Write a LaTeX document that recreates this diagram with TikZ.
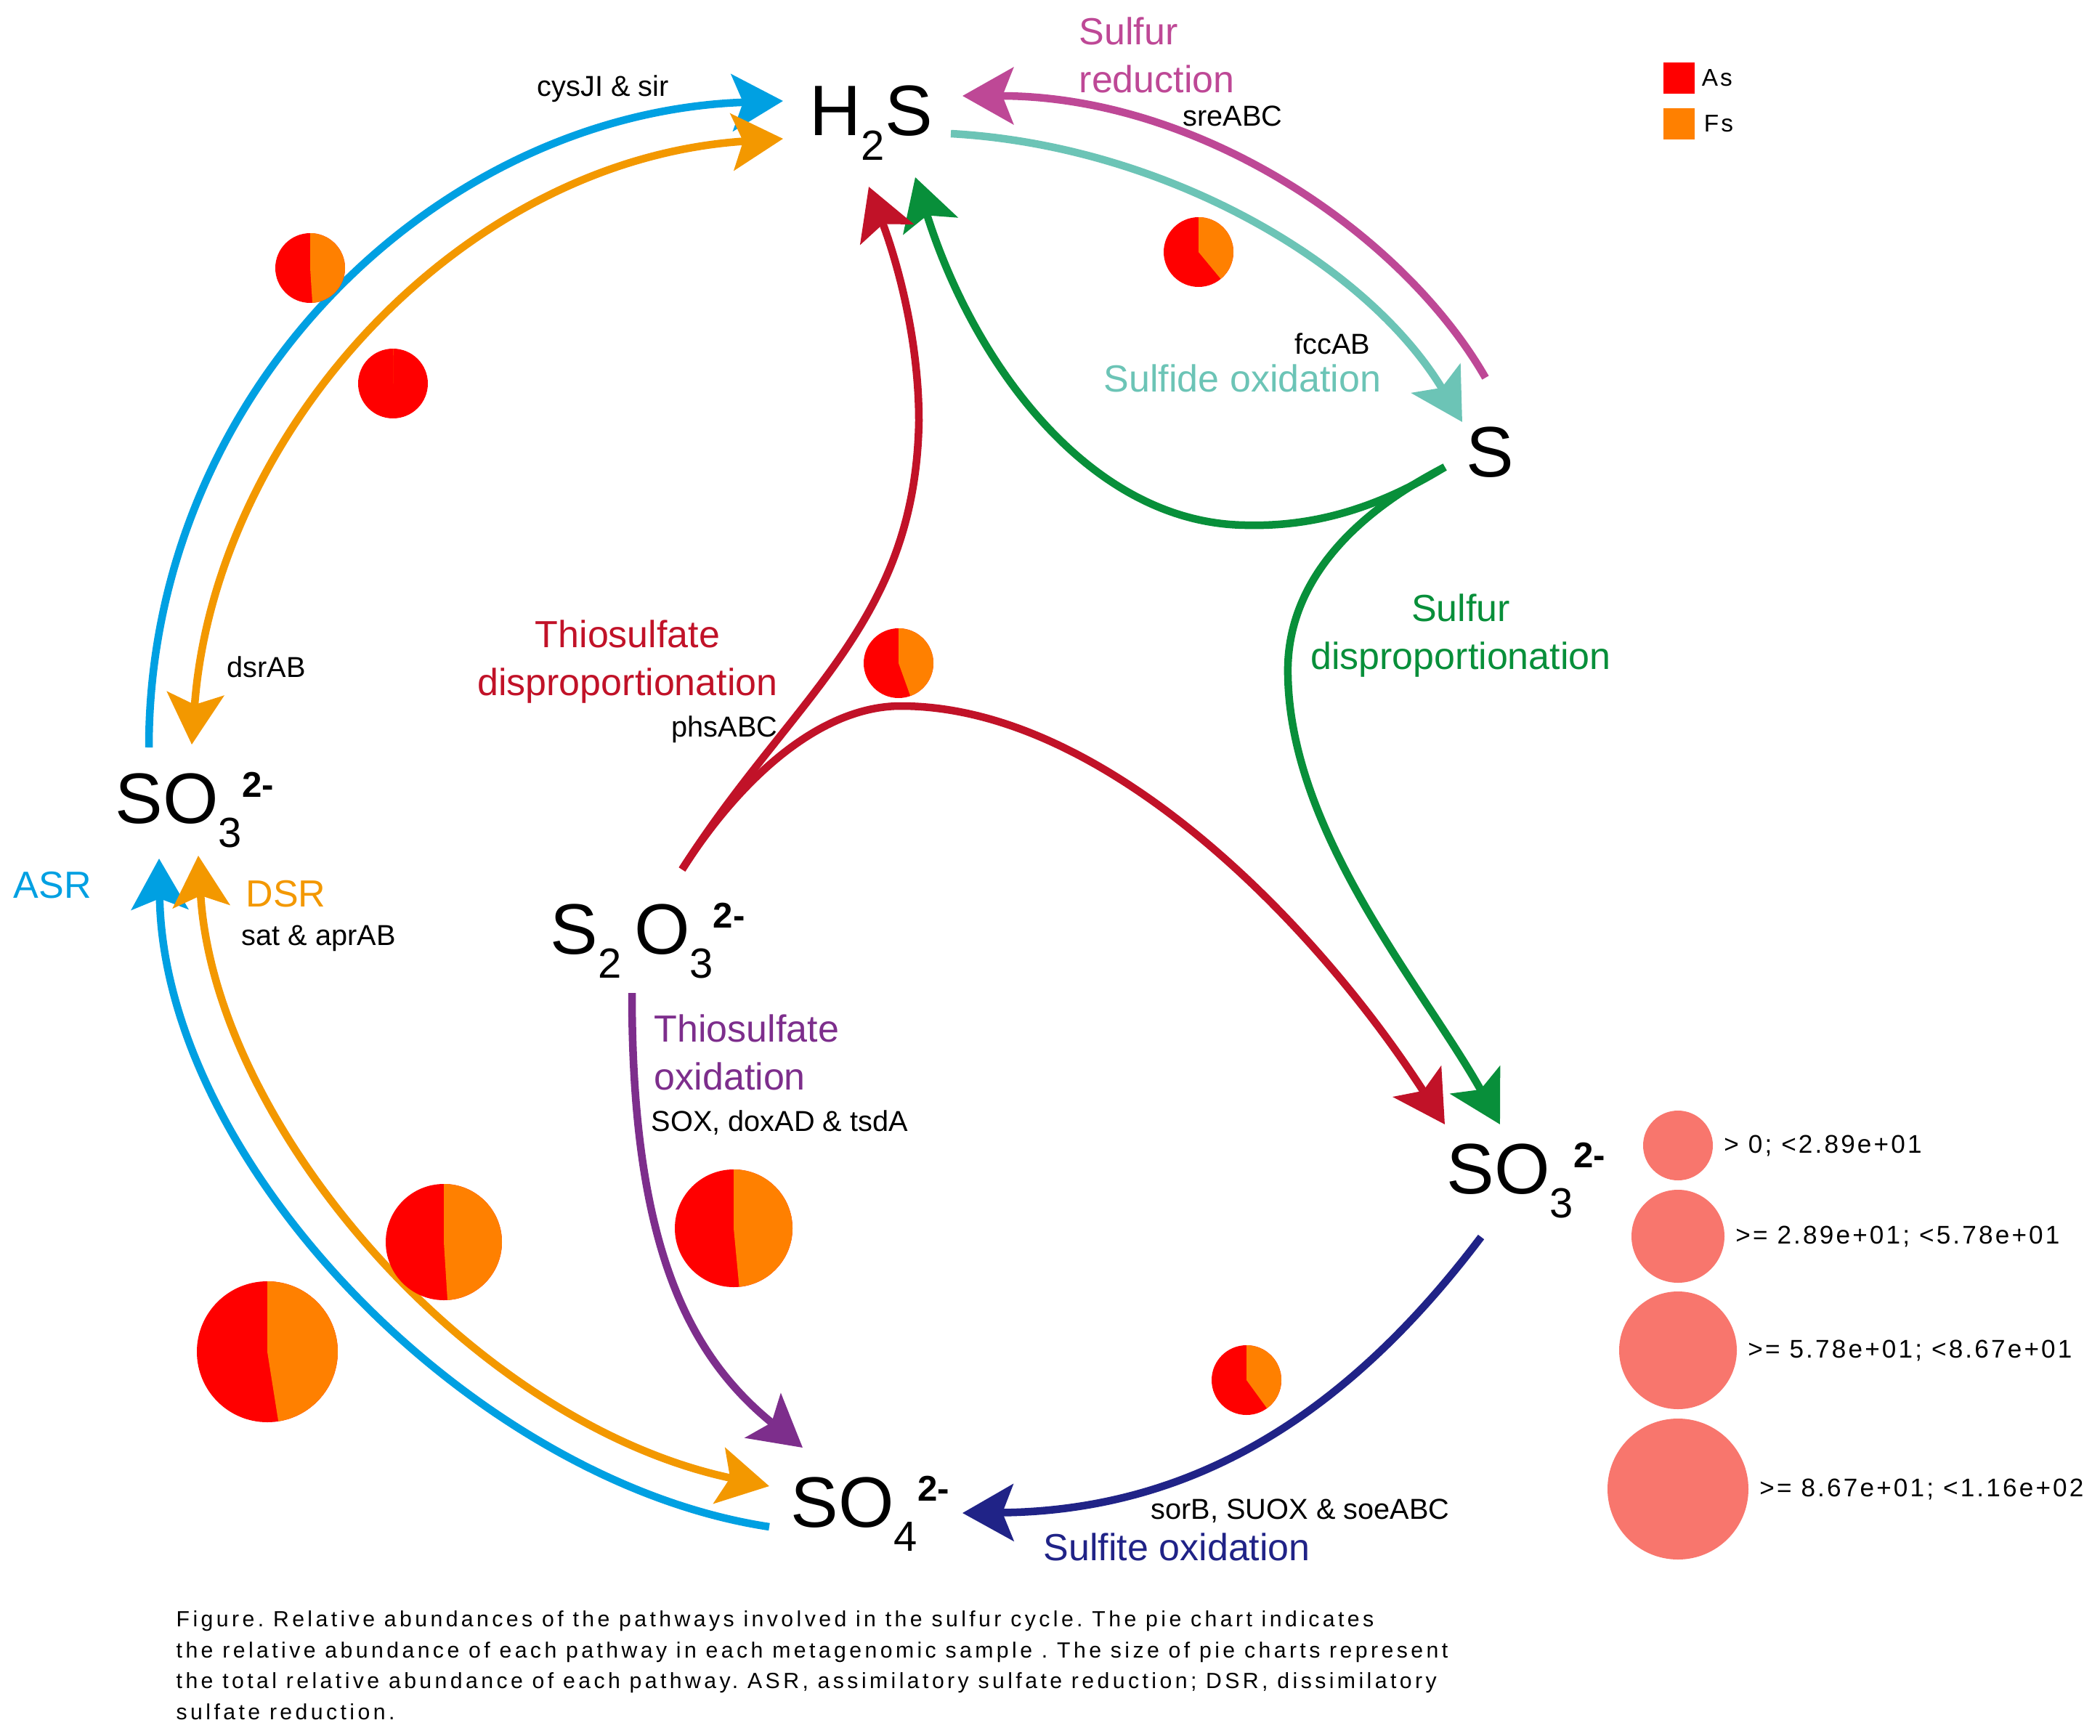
\documentclass[tikz,border=0pt]{standalone}
\usepackage{fontspec}
\setmainfont{Liberation Sans}
\newfontfamily\capfont[LetterSpace=14.6]{Liberation Sans}
\newfontfamily\keyfont[LetterSpace=9]{Liberation Sans}
\usetikzlibrary{arrows.meta,positioning}
\definecolor{asrBlue}{RGB}{0,160,226}
\definecolor{dsrOrange}{RGB}{243,152,0}
\definecolor{sredMagenta}{RGB}{190,72,150}
\definecolor{soxTeal}{RGB}{108,196,182}
\definecolor{sdisGreen}{RGB}{8,143,58}
\definecolor{tdisRed}{RGB}{193,18,40}
\definecolor{toxPurple}{RGB}{125,46,140}
\definecolor{sulfoxNavy}{RGB}{32,35,135}
\definecolor{asRed}{RGB}{255,0,0}
\definecolor{fsOrange}{RGB}{255,128,0}
\definecolor{sizeSalmon}{RGB}{248,118,109}
\newcommand{\chsub}[1]{\raisebox{-9.6pt}{\fontsize{16.5}{18}\selectfont #1}}
\newcommand{\chsup}[1]{\raisebox{10.2pt}{\fontsize{14}{16}\selectfont\bfseries #1}}
\frenchspacing

\begin{document}
\begin{tikzpicture}[
    chem/.style={inner sep=0pt,anchor=base west,font=\fontsize{28}{32}\selectfont},
    gene/.style={inner sep=0pt,anchor=north west,font=\fontsize{11.3}{13}\selectfont},
    pway/.style={inner sep=0pt,anchor=north west,align=left,font=\fontsize{14.8}{18.8}\selectfont},
    flow/.style={line width=1.05mm,-{Stealth[length=7mm,width=7.8mm,inset=1.5mm]}},
    dflow/.style={flow,{Stealth[length=7mm,width=7.8mm,inset=1.5mm]}-{Stealth[length=7mm,width=7.8mm,inset=1.5mm]}},
    keytxt/.style={inner sep=0pt,font=\keyfont\fontsize{9.5}{11}\selectfont},
    sizetxt/.style={inner sep=0pt,font=\keyfont\fontsize{10}{12}\selectfont}]
  \fill[white] (0,0) rectangle (28.91,-23.90);
  \useasboundingbox (0,0) rectangle (28.91,-23.90);

  \node[chem] (h2s) at (11.14,-1.87) {H\chsub{2}S};
  \node[chem] (sul) at (20.18,-6.56) {S};
  \node[chem] (so3a) at (1.58,-11.33) {SO\chsub{3}\chsup{2-}};
  \node[chem] (s2o3) at (7.57,-13.13) {S\chsub{2}\hspace{5pt}O\chsub{3}\chsup{2-}};
  \node[chem] (so3b) at (19.91,-16.43) {SO\chsub{3}\chsup{2-}};
  \node[chem] (so4) at (10.88,-21.02) {SO\chsub{4}\chsup{2-}};

  % ASR and DSR
  \draw[flow,asrBlue] ([shift={(0.47,1.04)}]so3a.base west) .. controls (2.05,-5.4) and (6.0,-1.55) .. ([shift={(-0.36,0.48)}]h2s.base west);
  \draw[dflow,dsrOrange] ([shift={(1.06,1.08)}]so3a.base west) .. controls (2.95,-6.0) and (6.3,-2.2) .. ([shift={(-0.36,-0.04)}]h2s.base west);
  \draw[flow,asrBlue] ([shift={(-0.29,0)}]so4.base west) .. controls (6.5,-20.4) and (2.25,-16.0) .. ([shift={(0.61,-0.49)}]so3a.base west);
  \draw[dflow,dsrOrange] ([shift={(1.15,-0.45)}]so3a.base west) .. controls (2.95,-15.5) and (6.5,-19.6) .. ([shift={(-0.29,0.56)}]so4.base west);

  \draw[flow,sredMagenta] ([shift={(0.27,1.36)}]sul.base west) .. controls (19.3,-3.2) and (16.5,-1.32) .. ([shift={(2.11,0.55)}]h2s.base west);
  \draw[flow,soxTeal] ([shift={(1.95,0.03)}]h2s.base west) .. controls (16.0,-2.0) and (18.8,-3.6) .. ([shift={(-0.05,0.75)}]sul.base west);

  \draw[flow,sdisGreen] ([shift={(-0.29,0.13)}]sul.base west) .. controls (18.8,-7.1) and (17.9,-7.25) .. (17.14,-7.23)
    .. controls (15.0,-7.2) and (13.4,-5.0) .. ([shift={(1.46,-0.57)}]h2s.base west);
  \draw[flow,sdisGreen] ([shift={(-0.29,0.13)}]sul.base west) .. controls (18.4,-7.2) and (17.7,-8.2) .. (17.73,-9.3)
    .. controls (17.77,-11.5) and (19.6,-13.6) .. ([shift={(0.74,0.95)}]so3b.base west);

  \draw[flow,tdisRed] ([shift={(1.82,1.16)}]s2o3.base west) .. controls (10.9,-9.6) and (12.6,-8.6) .. (12.65,-5.8)
    .. controls (12.65,-4.4) and (12.2,-3.2) .. ([shift={(0.82,-0.70)}]h2s.base west);
  \draw[flow,tdisRed] ([shift={(1.82,1.16)}]s2o3.base west) .. controls (10.2,-10.7) and (11.3,-9.72) .. (12.40,-9.72)
    .. controls (15.2,-9.72) and (18.1,-12.7) .. ([shift={(-0.02,0.95)}]so3b.base west);

  \draw[flow,toxPurple] ([shift={(1.13,-0.54)}]s2o3.base west) .. controls (8.70,-17.0) and (9.4,-18.6) .. ([shift={(0.17,1.09)}]so4.base west);
  \draw[flow,sulfoxNavy] ([shift={(0.48,-0.60)}]so3b.base west) .. controls (18.6,-19.4) and (16.5,-20.8) .. ([shift={(2.37,0.19)}]so4.base west);

  % pies: x / y / radius / As share
  \foreach \px/\py/\pr/\pf in {4.27/-3.69/0.48/0.51, 5.41/-5.28/0.48/0.999, 16.50/-3.47/0.48/0.61,
      12.37/-9.13/0.48/0.555, 17.16/-19.00/0.48/0.60, 10.10/-16.91/0.81/0.515,
      6.11/-17.10/0.80/0.51, 3.68/-18.61/0.97/0.525}{
    \fill[asRed] (\px,\py) circle[radius=\pr];
    \fill[fsOrange] (\px,\py) -- ++(90:\pr) arc[start angle=90,delta angle={-360*(1-\pf)},radius=\pr] -- cycle;
  }

  \node[gene] (gcys) at (7.39,-1.03) {cysJI \& sir};
  \node[gene] (gsre) at (16.28,-1.45) {sreABC};
  \node[gene] (gfcc) at (17.82,-4.58) {fccAB};
  \node[gene] (gphs) at (9.24,-9.85) {phsABC};
  \node[gene] (gdsr) at (3.12,-9.03) {dsrAB};
  \node[gene] (gapr) at (3.32,-12.73) {sat \& aprAB};
  \node[gene] (gsox) at (8.96,-15.28) {SOX, doxAD \& tsdA};
  \node[gene] (gsor) at (15.84,-20.63) {sorB, SUOX \& soeABC};

  \node[pway,text=sredMagenta] (lsred) at (14.85,-0.23) {Sulfur\\reduction};
  \node[pway,text=soxTeal] (lsox) at (15.19,-5.01) {Sulfide oxidation};
  \node[pway,text=sdisGreen,anchor=north,align=center] (lsdis) at (20.11,-8.17) {Sulfur\\disproportionation};
  \node[pway,text=tdisRed,anchor=north,align=center] (ltdis) at (8.64,-8.53) {Thiosulfate\\disproportionation};
  \node[pway,text=toxPurple] (ltox) at (9.00,-13.96) {Thiosulfate\\oxidation};
  \node[pway,text=asrBlue] (lasr) at (0.18,-11.99) {ASR};
  \node[pway,text=dsrOrange] (ldsr) at (3.38,-12.11) {DSR};
  \node[pway,text=sulfoxNavy] (lsfo) at (14.36,-21.10) {Sulfite oxidation};

  \node[fill=asRed,minimum size=4.3mm,inner sep=0pt] (kas) at (23.11,-1.07) {};
  \node[keytxt,right=0.9mm of kas] (kast) {As};
  \node[fill=fsOrange,minimum size=4.3mm,inner sep=0pt] (kfs) at (23.11,-1.70) {};
  \node[keytxt,right=1.2mm of kfs] (kfst) {Fs};

  \foreach \i/\yy/\rr/\txt in {1/-15.77/0.96/{> 0; <2.89e+01}, 2/-17.02/1.28/{>= 2.89e+01; <5.78e+01},
      3/-18.59/1.62/{>= 5.78e+01; <8.67e+01}, 4/-20.50/1.94/{>= 8.67e+01; <1.16e+02}}{
    \node[circle,fill=sizeSalmon,minimum size=\rr cm,inner sep=0pt] (sz\i) at (23.10,\yy) {};
    \node[sizetxt,right=1.4mm of sz\i] (szt\i) {\txt};
  }

  \node[inner sep=0pt,anchor=north west,align=left,font=\capfont\fontsize{8.6}{12.1}\selectfont] (cap) at (2.42,-22.17)
    {Figure. Relative abundances of the pathways involved in the sulfur cycle. The pie chart indicates\\
     the relative abundance of each pathway in each metagenomic sample . The size of pie charts represent\\
     the total relative abundance of each pathway. ASR, assimilatory sulfate reduction; DSR, dissimilatory\\
     sulfate reduction.};
\end{tikzpicture}
\end{document}
